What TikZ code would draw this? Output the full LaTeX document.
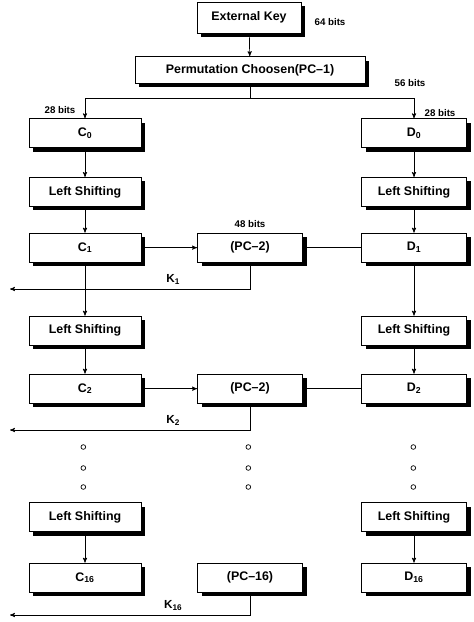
\documentclass[tikz,border=0pt]{standalone}
\usepackage{fontspec}
\setmainfont{Liberation Sans}
\usetikzlibrary{arrows,calc,positioning,shadows}
\newcommand{\lsub}[1]{\textsubscript{#1}}
\tikzset{
%Define standard arrow tip
>=stealth',
%Define styles for boxes, labels and lines
key box/.style={draw, thick, fill=white, minimum height=0.87cm, inner sep=0pt,
  font=\bfseries\fontsize{10.6}{13}\selectfont,
  drop shadow={fill=black, opacity=1, shadow xshift=0.12cm, shadow yshift=-0.12cm}},
left box/.style={key box, minimum width=3.36cm},
right box/.style={key box, minimum width=3.15cm},
bits label/.style={font=\bfseries\fontsize{8.3}{9}\selectfont},
flow/.style={->, semithick},
link/.style={semithick},
}

\begin{document}
\begin{tikzpicture}
    \useasboundingbox (0,0) rectangle (14.19,-18.66);

    % key and first permutation
    \node[key box, minimum width=3.12cm, minimum height=0.93cm] (extkey) at (7.47,-0.53) {External Key};
    \node[bits label] (bits64) at (9.9,-0.66) {64 bits};
    \node[key box, minimum width=6.9cm, minimum height=0.8cm] (pc1) at (7.5,-2.1) {Permutation Choosen(PC--1)};
    \node[bits label] (bits56) at (12.3,-2.49) {56 bits};
    \coordinate (split) at (7.5,-2.94);
    \draw[flow] (extkey) -- (pc1);
    \draw[link] (pc1) -- (split);

    % halves C and D
    \node[left box] (c0) at (2.55,-4.0) {C\lsub{0}};
    \node[right box] (d0) at (12.42,-4.0) {D\lsub{0}};
    \node[bits label] (bitsc) at (1.8,-3.3) {28 bits};
    \node[bits label] (bitsd) at (13.2,-3.39) {28 bits};
    \draw[flow] (split) -| (c0);
    \draw[flow] (split) -| (d0);

    % round 1
    \node[left box] (ls1) at (2.55,-5.76) {Left Shifting};
    \node[right box] (lsd1) at (12.42,-5.76) {Left Shifting};
    \node[left box] (c1) at (2.55,-7.43) {C\lsub{1}};
    \node[key box, minimum width=3.15cm] (pca) at (7.5,-7.43) {(PC--2)};
    \node[right box] (d1) at (12.42,-7.43) {D\lsub{1}};
    \node[bits label, above=0.02cm of pca] (bits48) {48 bits};
    \coordinate (k1end) at (0.3,-8.67);
    \draw[flow] (c0) -- (ls1);
    \draw[flow] (ls1) -- (c1);
    \draw[flow] (d0) -- (lsd1);
    \draw[flow] (lsd1) -- (d1);
    \draw[flow] (c1) -- (pca);
    \draw[link] (d1) -- (pca);
    \draw[flow] (pca) |- (k1end) node[pos=0.66, above] (k1) {\bfseries K\lsub{1}};

    % round 2
    \node[left box] (ls2) at (2.55,-9.92) {Left Shifting};
    \node[right box] (lsd2) at (12.42,-9.92) {Left Shifting};
    \node[left box] (c2) at (2.55,-11.66) {C\lsub{2}};
    \node[key box, minimum width=3.15cm] (pcb) at (7.5,-11.66) {(PC--2)};
    \node[right box] (d2) at (12.42,-11.66) {D\lsub{2}};
    \coordinate (k2end) at (0.3,-12.9);
    \draw[flow] (c1) -- (ls2);
    \draw[flow] (ls2) -- (c2);
    \draw[flow] (d1) -- (lsd2);
    \draw[flow] (lsd2) -- (d2);
    \draw[flow] (c2) -- (pcb);
    \draw[link] (d2) -- (pcb);
    \draw[flow] (pcb) |- (k2end) node[pos=0.66, above] (k2) {\bfseries K\lsub{2}};

    % dots
    \foreach \x in {2.5,7.45,12.4}
      \foreach \y in {-13.41,-14.04,-14.61}
        \draw[semithick] (\x,\y) circle (0.07);

    % round 16
    \node[left box] (ls16) at (2.55,-15.51) {Left Shifting};
    \node[right box] (lsd16) at (12.42,-15.51) {Left Shifting};
    \node[left box] (c16) at (2.55,-17.33) {C\lsub{16}};
    \node[key box, minimum width=3.15cm] (pcp) at (7.5,-17.33) {(PC--16)};
    \node[right box] (d16) at (12.42,-17.33) {D\lsub{16}};
    \coordinate (k16end) at (0.3,-18.45);
    \draw[flow] (ls16) -- (c16);
    \draw[flow] (lsd16) -- (d16);
    \draw[flow] (pcp) |- (k16end) node[pos=0.66, above] (k16) {\bfseries K\lsub{16}};
\end{tikzpicture}
\end{document}
